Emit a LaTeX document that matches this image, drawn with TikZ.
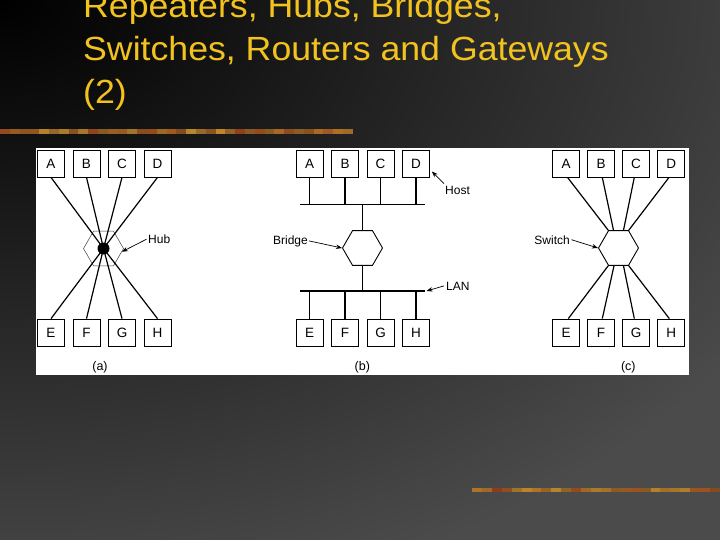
\documentclass[tikz,border=0pt]{standalone}
\usepackage{fontspec}
\setmainfont{Liberation Sans}
\newfontfamily\ttlfont[FakeStretch=1.065]{Liberation Sans}
\usetikzlibrary{shapes.geometric,arrows.meta,calc}
\definecolor{bgg}{HTML}{4B4B4B}
\definecolor{ttl}{HTML}{F2C21F}
\definecolor{barO}{HTML}{C88E2E}
\definecolor{barR}{HTML}{8A3418}
\definecolor{barG}{HTML}{6E6A2A}
\begin{document}
\begin{tikzpicture}[x=1pt,y=-1pt,
  ttlstyle/.style={anchor=base west, inner sep=0pt, text=ttl, font=\ttlfont\fontsize{33.5}{40}\selectfont},
  hostbox/.style={draw=black, line width=0.8pt, minimum width=27pt, minimum height=27pt, inner sep=0pt, fill=white, font=\fontsize{13.5}{14}\selectfont},
  hexa/.style={regular polygon, regular polygon sides=6, minimum size=40pt, inner sep=0pt, draw=black, line width=0.9pt, fill=white},
  wire/.style={line width=1.2pt, draw=black},
  arr/.style={line width=0.7pt, -{Stealth[length=6pt,width=4.5pt]}},
  lbl/.style={inner sep=0pt, font=\fontsize{12}{14}\selectfont},
  sub/.style={inner sep=0pt, anchor=base, font=\fontsize{12.5}{14}\selectfont}]
\useasboundingbox (0,0) rectangle (720,540);
% background
\fill[bgg] (0,0) rectangle (720,540);
\begin{scope}
  \clip (0,0) rectangle (720,540);
  \shade[inner color=black, outer color=bgg] (0,0) ellipse [x radius=900, y radius=620];
\end{scope}
% title
\node[ttlstyle] (t1) at (83,18) {Repeaters, Hubs, Bridges,};
\node[ttlstyle] (t2) at (83,61) {Switches, Routers and Gateways};
\node[ttlstyle] (t3) at (83,104) {(2)};
% decorative bars
\pgfmathsetseed{7}
\foreach \i in {0,...,35}{
  \pgfmathsetmacro\r{int(random(0,100))}
  \pgfmathsetmacro\s{int(random(55,100))}
  \fill[barO!\r!barR!\s!barG] ({\i*9.8},129.5) rectangle ({(\i+1)*9.8},134.5);
}
\foreach \i in {0,...,24}{
  \pgfmathsetmacro\r{int(random(0,100))}
  \pgfmathsetmacro\s{int(random(55,100))}
  \fill[barO!\r!barR!\s!barG] ({472+\i*9.92},487.5) rectangle ({472+(\i+1)*9.92},492);
}
% white panel
\fill[white] (36,148) rectangle (689,375);
% ---------- (a) hub ----------
\foreach \n/\x in {A/51,B/86.5,C/122,D/157.5}
  \node[hostbox] (a\n) at (\x,163.5) {\n};
\foreach \n/\x in {E/51,F/86.5,G/122,H/157.5}
  \node[hostbox] (a\n) at (\x,332.5) {\n};
\node[hexa, draw=black!75, line width=0.5pt] (ahex) at (103.5,248.5) {};
\node[circle, fill=black, minimum size=12pt, inner sep=0pt] (hubdot) at (ahex.center) {};
\foreach \n in {A,B,C,D}
  \draw[wire] (a\n.south) -- (hubdot.center);
\foreach \n in {E,F,G,H}
  \draw[wire] (a\n.north) -- (hubdot.center);
\node[lbl, anchor=base west] (hubl) at (148,243.5) {Hub};
\draw[arr] ([xshift=-1.5pt]hubl.west) -- (ahex.-10);
\node[sub] (suba) at (100,370) {(a)};
% ---------- (b) bridge ----------
\foreach \n/\x in {A/309.5,B/345,C/380.5,D/416}
  \node[hostbox] (b\n) at (\x,163.5) {\n};
\foreach \n/\x in {E/309.5,F/345,G/380.5,H/416}
  \node[hostbox] (b\n) at (\x,332.5) {\n};
\coordinate (btl) at (300,204.5);
\coordinate (btr) at (425,204.5);
\coordinate (bbl) at (300,291);
\coordinate (bbr) at (425,291);
\draw[wire] (btl) -- (btr);
\draw[wire] (bbl) -- (bbr);
\foreach \n in {A,B,C,D}
  \draw[wire] (b\n.south) -- (b\n.south |- btl);
\foreach \n in {E,F,G,H}
  \draw[wire] (b\n.north) -- (b\n.north |- bbl);
\node[hexa] (bhex) at (362.5,248) {};
\draw[wire] (bhex.north) -- (bhex.north |- btl);
\draw[wire] (bhex.south) -- (bhex.south |- bbl);
\node[lbl, anchor=base west] (hostl) at (445,195) {Host};
\draw[arr] ([xshift=-1pt,yshift=3pt]hostl.north west) -- ([xshift=2pt,yshift=-8pt]bD.east);
\node[lbl, anchor=base east] (bridgel) at (308,244) {Bridge};
\draw[arr] ([xshift=1pt]bridgel.east) -- (bhex.west);
\node[lbl, anchor=base west] (lanl) at (446,290) {LAN};
\draw[arr] ([xshift=-2pt]lanl.west) -- ([xshift=1.5pt]bbr);
\node[sub] (subb) at (362.3,370) {(b)};
% ---------- (c) switch ----------
\foreach \n/\x in {A/566,B/601,C/636,D/671.3}
  \node[hostbox] (c\n) at (\x,163.5) {\n};
\foreach \n/\x in {E/566,F/601,G/636,H/671.3}
  \node[hostbox] (c\n) at (\x,332.5) {\n};
\node[hexa] (sw) at (618.5,248) {};
\draw[wire] ([xshift=1.5pt]cA.south) -- (sw.120);
\draw[wire] ([xshift=1.3pt]cB.south) -- ([xshift=-5pt]sw.north);
\draw[wire] ([xshift=-1.7pt]cC.south) -- ([xshift=5pt]sw.north);
\draw[wire] ([xshift=-2.3pt]cD.south) -- (sw.60);
\draw[wire] ([xshift=2.3pt]cE.north) -- (sw.240);
\draw[wire] ([xshift=1.3pt]cF.north) -- ([xshift=-4.5pt]sw.south);
\draw[wire] ([xshift=-1.7pt]cG.north) -- ([xshift=5pt]sw.south);
\draw[wire] ([xshift=-2pt]cH.north) -- (sw.300);
\node[lbl, anchor=base east] (swl) at (570,244) {Switch};
\draw[arr] ([xshift=1.5pt]swl.east) -- (sw.west);
\node[sub] (subc) at (628.3,370) {(c)};
\end{tikzpicture}
\end{document}
